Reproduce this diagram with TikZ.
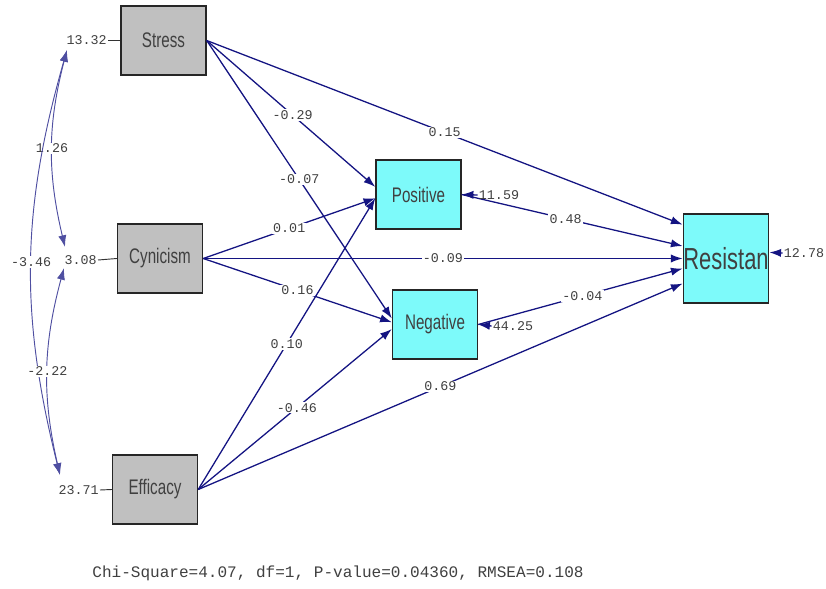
\documentclass[tikz,border=0pt]{standalone}
\usepackage{fontspec}
\usetikzlibrary{arrows.meta}
\newfontfamily\boxfont[FakeStretch=0.72]{Liberation Sans}
\newfontfamily\numfont{Liberation Mono}
\definecolor{navy}{RGB}{20,20,130}
\definecolor{aqua}{RGB}{125,250,250}
\definecolor{boxgray}{RGB}{192,192,192}

\begin{document}
\begin{tikzpicture}[x=0.03cm,y=-0.03cm,>={Latex[length=10pt,width=7pt]}]
  \tikzset{obsbox/.style={draw=black!85,line width=1.2pt,fill=boxgray,minimum width=2.55cm,minimum height=2.07cm,inner sep=0pt,text=black!75,font=\boxfont\fontsize{18}{18}\selectfont},
    endobox/.style={obsbox,fill=aqua},
    est/.style={fill=white,inner sep=1pt,text=black!75,font=\numfont\fontsize{11.4}{11.4}\selectfont},
    errlabel/.style={est,fill=none},
    link/.style={navy,line width=1.1pt,->},
    cov/.style={navy!75,line width=0.8pt,<->}}
  \useasboundingbox (0,0) rectangle (826,589);
  \node[obsbox] (stress) at (163.5,40.5) {Stress};
  \node[obsbox] (cynicism) at (160,258.5) {Cynicism};
  \node[obsbox] (efficacy) at (155,489.5) {Efficacy};
  \node[endobox] (positive) at (418.5,194.5) {Positive};
  \node[endobox] (negative) at (435,324.5) {Negative};
  \node[endobox,minimum width=2.46cm,minimum height=2.67cm,font=\boxfont\fontsize{26}{26}\selectfont] (resist) at (726,258.5) {Resistan};
  \node[errlabel,anchor=east] (vstress) at (108,40.5) {13.32};
  \node[errlabel,anchor=east] (vcyn) at (98,260) {3.08};
  \node[errlabel,anchor=east] (veff) at (100,490) {23.71};
  \draw[black!80,line width=0.8pt] (vstress.east) -- (stress.west);
  \draw[black!80,line width=0.8pt] (vcyn.east) -- (cynicism.west);
  \draw[black!80,line width=0.8pt] (veff.east) -- (efficacy.west);
  \coordinate (sc) at (67,50);
  \coordinate (cs) at (65,247);
  \coordinate (ce) at (64,268);
  \coordinate (es) at (60,475);
  \draw[cov] (sc) to[bend right=14] node[est]{1.26} (cs);
  \draw[cov] (sc) to[bend right=15] node[est]{-3.46} (es);
  \draw[cov] (ce) to[bend right=14] node[est]{-2.22} (es);
  \draw[link] (stress.east) -- node[est,pos=0.51]{-0.29} (positive.170);
  \draw[link] (stress.east) -- node[est]{-0.07} (negative.172);
  \draw[link] (stress.east) -- node[est]{0.15} (resist.142);
  \draw[link] (efficacy.east) -- node[est]{0.10} (positive.185);
  \draw[link] (cynicism.east) -- node[est]{0.01} (positive.185);
  \draw[link] (cynicism.east) -- node[est]{-0.09} (resist.west);
  \draw[link] (cynicism.east) -- node[est]{0.16} (negative.177);
  \draw[link] (efficacy.east) -- node[est,pos=0.51]{-0.46} (negative.186);
  \draw[link] (efficacy.east) -- node[est]{0.69} (resist.210);
  \draw[link] (positive.east) -- node[est,pos=0.47]{0.48} (resist.164);
  \draw[link] (negative.east) -- node[est,pos=0.51]{-0.04} (resist.193);
  \node[errlabel] (epos) at (499,195) {11.59};
  \node[errlabel] (eneg) at (513,326) {44.25};
  \node[errlabel] (eres) at (804,253) {12.78};
  \draw[link] (epos.west) -- (positive.east);
  \draw[link] (eneg.west) -- (negative.east);
  \draw[link] (eres.west) -- (resist.8);
  \node[font=\numfont\fontsize{13.7}{13.7}\selectfont,text=black!75] (fit) at (338,573) {Chi-Square=4.07, df=1, P-value=0.04360, RMSEA=0.108};
\end{tikzpicture}
\end{document}
